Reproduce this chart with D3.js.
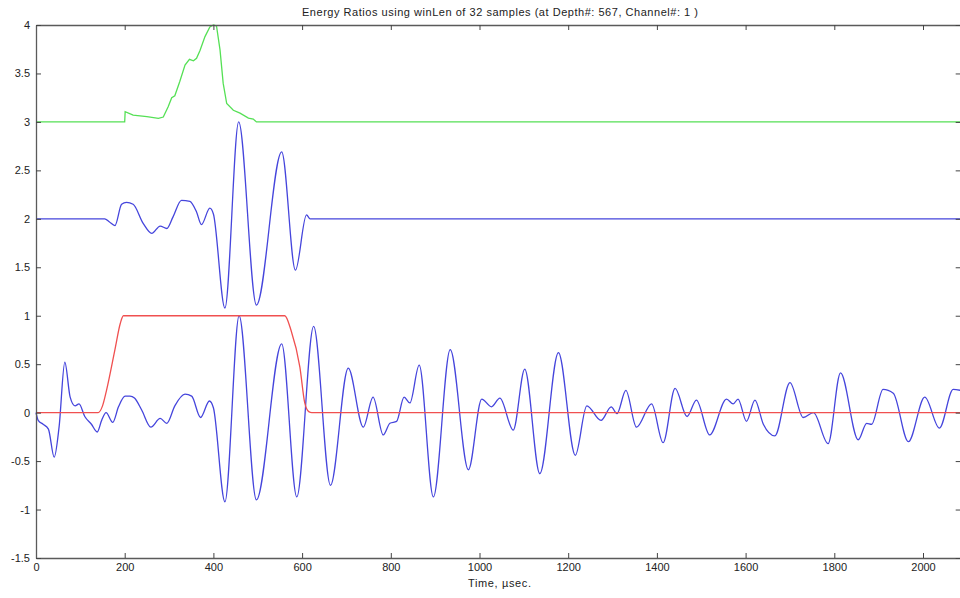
<!DOCTYPE html>
<html lang="en">
	<head>
		<meta charset="utf-8">
		<title>Energy Ratios</title>
		<script type="text/javascript" src="https://cdn.jsdelivr.net/npm/d3@7/dist/d3.min.js"></script>
		<style type="text/css">
			body { margin: 0; background: #fff; }
			text { font-family: "Liberation Sans", Arial, sans-serif; fill: #222; }
		</style>
	</head>
	<body>
		<script type="text/javascript">
			// time in usec
			var greenT = [0, 200, 201, 219, 250, 276, 287, 298, 306, 313, 324, 336, 346, 355, 362, 370, 381, 392, 400, 407, 415, 422, 430, 445, 460, 479, 490, 497, 2085]
			var greenV = [3, 3, 3.105, 3.07, 3.054, 3.037, 3.05, 3.157, 3.25, 3.27, 3.415, 3.587, 3.646, 3.63, 3.656, 3.74, 3.88, 3.98, 4.0, 3.99, 3.74, 3.40, 3.19, 3.12, 3.09, 3.04, 3.03, 3.0, 3]

			var upperT = [0, 155, 165, 178, 193, 204, 219, 242, 261, 280, 295, 309, 328, 347, 362, 373, 392, 400, 426, 457, 497, 554, 585, 610, 618, 2085]
			var upperV = [2, 2, 1.97, 1.93, 2.15, 2.17, 2.15, 1.95, 1.85, 1.925, 1.90, 2.02, 2.19, 2.18, 2.07, 1.94, 2.11, 2.05, 1.08, 3.0, 1.11, 2.69, 1.47, 2.04, 2.0, 2]

			var redT = [0, 140, 150, 159, 178, 190, 197, 561, 575, 595, 606, 615, 622, 2085]
			var redV = [0, 0, 0.07, 0.23, 0.65, 0.92, 1, 1, 0.85, 0.47, 0.1, 0.01, 0, 0]

			var waveT = [0, 5, 16, 28, 41, 52, 65, 77, 88, 97, 110, 125, 138, 148, 158, 173, 186, 201, 212, 222, 238, 259, 280, 295, 313, 336, 351, 371, 391, 400,
				426, 458, 497, 554, 588, 626, 664, 704, 738, 760, 783, 798, 813, 830, 843, 864, 896, 934, 975, 1005, 1027, 1046, 1076, 1102, 1136, 1178, 1216,
				1242, 1274, 1297, 1310, 1330, 1354, 1388, 1414, 1441, 1468, 1489, 1519, 1557, 1572, 1583, 1602, 1621, 1640, 1666, 1700, 1730, 1753, 1786, 1814,
				1854, 1873, 1884, 1910, 1933, 1967, 2004, 2037, 2068, 2085]
			var waveV = [0, -0.08, -0.12, -0.17, -0.46, -0.15, 0.52, 0.16, 0.07, 0.09, -0.04, -0.12, -0.20, -0.08, 0.0, -0.10, 0.06, 0.17, 0.17, 0.15, 0.03, -0.15, -0.06, -0.11, 0.07, 0.19, 0.17, -0.05, 0.12, 0.05,
				-0.92, 1.0, -0.90, 0.71, -0.87, 0.89, -0.75, 0.46, -0.15, 0.16, -0.23, -0.11, -0.09, 0.16, 0.10, 0.49, -0.87, 0.65, -0.59, 0.14, 0.06, 0.15, -0.18, 0.45, -0.63, 0.62, -0.44,
				0.07, -0.08, 0.06, -0.01, 0.23, -0.15, 0.09, -0.31, 0.25, -0.04, 0.13, -0.23, 0.14, 0.09, 0.14, -0.09, 0.13, -0.12, -0.24, 0.31, -0.05, 0.0, -0.32, 0.41,
				-0.28, -0.11, -0.12, 0.24, 0.20, -0.30, 0.16, -0.16, 0.24, 0.23]

			var xTicks = [0, 200, 400, 600, 800, 1000, 1200, 1400, 1600, 1800, 2000]
			var yTicks = [-1.5, -1, -0.5, 0, 0.5, 1, 1.5, 2, 2.5, 3, 3.5, 4]

			var w = 960, h = 598
			var mLeft = 36, mRight = 960.7, mTop = 25, mBottom = 558

			var svg = d3.select("body").append("svg").attr("width", w).attr("height", h)

			var xscale = d3.scaleLinear().domain([0, 2085]).range([mLeft, mRight])
			var yscale = d3.scaleLinear().domain([-1.5, 4]).range([mBottom, mTop])

			function pts(ts, vs) {
				return ts.map(function(t, i) { return [t, vs[i]] })
			}

			var smooth = d3.line()
				.x(function(d) { return xscale(d[0]) })
				.y(function(d) { return yscale(d[1]) })
				.curve(d3.curveMonotoneX)
			var straight = d3.line()
				.x(function(d) { return xscale(d[0]) })
				.y(function(d) { return yscale(d[1]) })

			svg.append("path").attr("d", straight(pts(greenT, greenV)))
				.attr("fill", "none").attr("stroke", "#55e055").attr("stroke-width", 1.3)
			svg.append("path").attr("d", smooth(pts(upperT, upperV)))
				.attr("fill", "none").attr("stroke", "#4545dc").attr("stroke-width", 1.3)
			svg.append("path").attr("d", smooth(pts(waveT, waveV)))
				.attr("fill", "none").attr("stroke", "#4545dc").attr("stroke-width", 1.3)
			svg.append("path").attr("d", smooth(pts(redT, redV)))
				.attr("fill", "none").attr("stroke", "#f05050").attr("stroke-width", 1.3)

			// axes, ticks pointing inward like matlab
			var fmt = function(d) { return String(d) }
			svg.append("g").attr("transform", "translate(0," + mBottom + ")")
				.call(d3.axisBottom(xscale).tickValues(xTicks).tickSize(-5).tickSizeOuter(0).tickPadding(5).tickFormat(fmt))
			svg.append("g").attr("transform", "translate(0," + mTop + ")")
				.call(d3.axisTop(xscale).tickValues(xTicks).tickSize(-5).tickSizeOuter(0).tickFormat(""))
			svg.append("g").attr("transform", "translate(" + mLeft + ",0)")
				.call(d3.axisLeft(yscale).tickValues(yTicks).tickSize(-5).tickSizeOuter(0).tickPadding(6).tickFormat(fmt))
			svg.append("g").attr("transform", "translate(" + mRight + ",0)")
				.call(d3.axisRight(yscale).tickValues(yTicks).tickSize(-5).tickSizeOuter(0).tickFormat(""))

			svg.selectAll(".domain").attr("stroke", "#5a5a5a").attr("stroke-width", 1.3)
			svg.selectAll(".tick line").attr("stroke", "#444")
			svg.selectAll(".tick text").attr("font-size", "11px").attr("fill", "#2a2a2a")
				.style("font-family", "'Liberation Sans', Arial, sans-serif")

			svg.append("text")
				.attr("x", 500).attr("y", 16)
				.attr("text-anchor", "middle")
				.attr("font-size", "11px")
				.attr("textLength", 396)
				.attr("lengthAdjust", "spacing")
				.text("Energy Ratios using winLen of 32 samples (at Depth#: 567, Channel#: 1 )")

			svg.append("text")
				.attr("x", 499.5).attr("y", 587)
				.attr("text-anchor", "middle")
				.attr("font-size", "11px")
				.attr("textLength", 63)
				.attr("lengthAdjust", "spacing")
				.text("Time, µsec.")
		</script>
	</body>
</html>
